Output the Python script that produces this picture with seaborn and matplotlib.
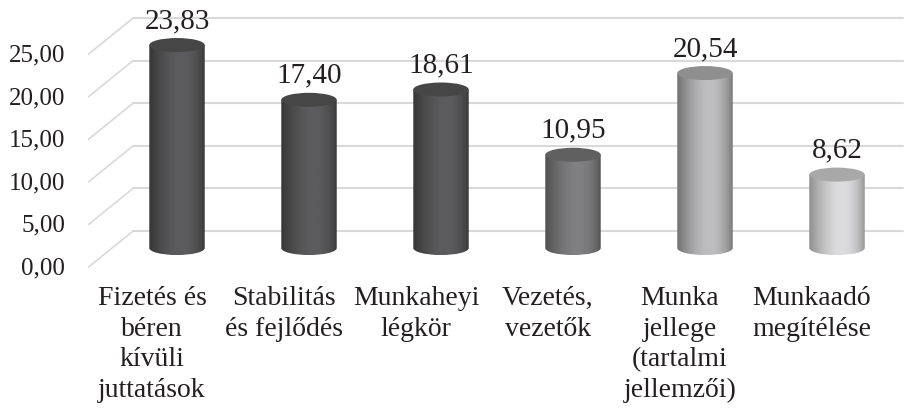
# coding: utf-8
"""
Munkahely-választási szempontok átlagos súlya - henger oszlopdiagram (seaborn)
"""
import numpy as np
import pandas as pd
import seaborn as sns
from matplotlib import pyplot as plt
from matplotlib import transforms
from matplotlib.path import Path
from matplotlib.patches import Ellipse
from matplotlib.colors import LinearSegmentedColormap

# Adatok
categories = ['Fizetés és\nbéren\nkívüli\njuttatások', 'Stabilitás\nés fejlődés', 'Munkaheyi\nlégkör',
              'Vezetés,\nvezetők', 'Munka\njellege\n(tartalmi\njellemzői)', 'Munkaadó\nmegítélése']
values = [23.83, 17.40, 18.61, 10.95, 20.54, 8.62]
yticks = [0, 5, 10, 15, 20, 25]

# Színek (henger: sötét szél, világos közép, tető)
body_light = ['#5c5c5e', '#5c5c5e', '#5c5c5e', '#808082', '#bebec0', '#dddddf']
body_dark = ['#363636', '#363636', '#363636', '#505050', '#707070', '#8e8e8e']
cap_colors = ['#464646', '#464646', '#464646', '#606060', '#8f8f8f', '#a8a8a8']

TEXT_COLOR = '#231f20'
GRID_COLOR = '#d9d9d9'
PPU = 8.52  # pixel / egység
BACK = 17.0 / PPU  # hátsó fal eltolás
FRONT = 19.0 / PPU
CAP_RY = 7.0 / PPU

sns.set_theme(style='white')
plt.rcParams['font.family'] = ['Liberation Serif', 'DejaVu Serif']

df = pd.DataFrame({'kategoria': categories, 'ertek': values})

fig = plt.figure(figsize=(9.15, 4.08), dpi=100)
ax = fig.add_axes([111 / 915, 1 - 273.6 / 408, 792 / 915, 272.6 / 408])

sns.barplot(data=df, x='kategoria', y='ertek', hue='kategoria', palette=body_light,
            width=0.42, legend=False, ax=ax, zorder=3)

# Henger rajzolása a seaborn oszlopok geometriájából
grad_x = np.linspace(0, 1, 200)
profile = np.sin(np.pi * grad_x ** 1.3) ** 0.7
bars = sorted([p for p in ax.patches if p.get_height() > 0], key=lambda p: p.get_x())
for i, bar in enumerate(bars):
    x0, w, h = bar.get_x(), bar.get_width(), bar.get_height()
    cx, rx = x0 + w / 2, w / 2
    arc = Path.arc(180, 360)
    arc_verts = np.column_stack([cx + rx * arc.vertices[:, 0], CAP_RY * arc.vertices[:, 1]])
    verts = np.vstack([[[x0, h], [x0, 0]], arc_verts, [[x0 + w, h], [x0, h]]])
    codes = [Path.MOVETO, Path.LINETO] + [Path.LINETO] + list(arc.codes[1:]) + [Path.LINETO, Path.CLOSEPOLY]
    body = Path(verts, codes)
    cmap = LinearSegmentedColormap.from_list('cyl%d' % i, [body_dark[i], body_light[i]])
    im = ax.imshow(profile[np.newaxis, :], cmap=cmap, vmin=0, vmax=1, aspect='auto',
                   extent=[x0, x0 + w, -CAP_RY, h], zorder=3, interpolation='bilinear')
    im.set_clip_path(body, transform=ax.transData)
    ax.add_patch(Ellipse((cx, h), w, 2 * CAP_RY, facecolor=cap_colors[i], edgecolor='none', zorder=4))
    ax.annotate(('%.2f' % h).replace('.', ','), (cx, h), xytext=(0, 8), textcoords='offset points',
                ha='center', va='bottom', fontsize=21, color=TEXT_COLOR)
    bar.set_visible(False)

ax.set_xlim(-0.5, 5.5)
ax.set_ylim(-3, 29)

# Háttér rácsvonalak (3D fal imitáció)
for v in yticks:
    ax.plot([-0.333, 5.5], [v + BACK, v + BACK], color=GRID_COLOR, lw=1.5, zorder=1, clip_on=False)
    ax.plot([-0.67, -0.333], [v - FRONT, v + BACK], color=GRID_COLOR, lw=1.2, zorder=1, clip_on=False)

ax.set_yticks(yticks)
ax.set_yticklabels([('%.2f' % v).replace('.', ',') for v in yticks])
ax.tick_params(axis='y', length=0, pad=33, labelsize=18, labelcolor=TEXT_COLOR)
ax.tick_params(axis='x', length=0, pad=9, labelsize=20, labelcolor=TEXT_COLOR)
ax.set_xlabel('')
ax.set_ylabel('')
ax.grid(False)
sns.despine(ax=ax, left=True, bottom=True)

down = transforms.ScaledTranslation(0, -0.18, fig.dpi_scale_trans)
for lab in ax.get_yticklabels():
    lab.set_transform(lab.get_transform() + down)
left = transforms.ScaledTranslation(-0.25, 0, fig.dpi_scale_trans)
for lab in ax.get_xticklabels():
    lab.set_transform(lab.get_transform() + left)
    lab.set_linespacing(1.3)

fig.savefig('out.png', dpi=100)
plt.close()
